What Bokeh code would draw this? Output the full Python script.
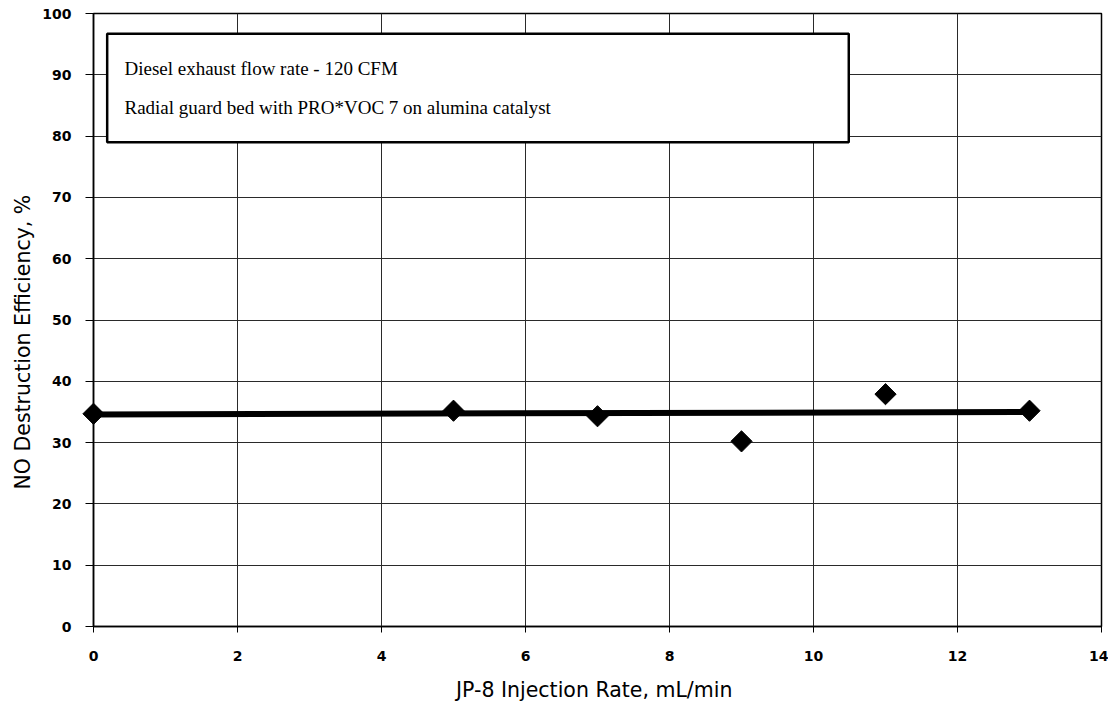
import math
from bokeh.plotting import figure
from bokeh.models import BoxAnnotation, Label, FixedTicker, Range1d, Title
from bokeh.embed import file_html
from bokeh.resources import INLINE

# data
inj_rate = [0, 5, 7, 9, 11, 13]
no_eff = [34.7, 35.2, 34.3, 30.2, 37.9, 35.2]
trend_x = [0, 13]
trend_y = [34.6, 35.0]
x_ticks = [0, 2, 4, 6, 8, 10, 12, 14]
y_ticks = [0, 10, 20, 30, 40, 50, 60, 70, 80, 90, 100]
x_title = "JP-8 Injection Rate,  mL/min"
y_title = "NO Destruction Efficiency, %"
note_lines = ["Diesel exhaust flow rate - 120 CFM",
              "Radial guard bed with PRO*VOC 7 on  alumina catalyst"]

p = figure(width=1108, height=705, output_backend="svg", toolbar_location=None,
           x_range=Range1d(0, 14), y_range=Range1d(0, 100),
           min_border_left=93, min_border_right=7, min_border_top=13, min_border_bottom=79)

p.background_fill_color = "white"
p.border_fill_color = "white"
p.outline_line_color = "black"
p.outline_line_width = 1.5

p.xaxis.ticker = FixedTicker(ticks=x_ticks)
p.yaxis.ticker = FixedTicker(ticks=y_ticks)
for ax in (p.xaxis, p.yaxis):
    ax.axis_line_color = "black"
    ax.axis_line_width = 1.5
    ax.major_tick_line_color = "black"
    ax.major_tick_in = 0
    ax.minor_tick_line_color = None
    ax.major_label_text_font = "DejaVu Sans"
    ax.major_label_text_font_style = "bold"
    ax.major_label_text_font_size = "14px"
    ax.major_label_text_color = "black"
    ax.axis_label_text_font = "DejaVu Sans"
    ax.axis_label_text_font_style = "normal"
    ax.axis_label_text_font_size = "20.5px"
    ax.axis_label_text_color = "black"

p.xaxis.major_tick_out = 6
p.yaxis.major_tick_out = 8
p.xaxis.major_label_standoff = 18
p.yaxis.major_label_standoff = 14
p.xaxis.axis_label = x_title
p.xaxis.axis_label_standoff = 14

p.xgrid.ticker = FixedTicker(ticks=x_ticks)
p.ygrid.ticker = FixedTicker(ticks=y_ticks)
p.grid.grid_line_color = "#2a2a2a"
p.grid.grid_line_width = 1

# y-axis title (slightly below centre, as in the reference)
ytitle = Title(text=y_title, align="left", offset=137, standoff=10,
               text_font="DejaVu Sans", text_font_size="20.5px",
               text_font_style="normal", text_color="black")
p.add_layout(ytitle, "left")

# trend line
p.line(trend_x, trend_y, line_color="black", line_width=6, level="overlay")
# data points
p.scatter(inj_rate, no_eff, marker="square", angle=math.pi / 4, size=15,
          fill_color="black", line_color="black", level="overlay")

# note box
box = BoxAnnotation(left=0.19, right=10.49, bottom=79.0, top=96.7,
                    fill_color="white", fill_alpha=1.0,
                    line_color="black", line_alpha=1.0, line_width=2.5)
p.add_layout(box)
for txt, yy in zip(note_lines, [91.0, 84.7]):
    p.add_layout(Label(x=0.43, y=yy, text=txt, text_font="Liberation Serif",
                       text_font_size="19px", text_baseline="middle",
                       text_color="black"))

open("out.html", "w").write(file_html(p, INLINE))
